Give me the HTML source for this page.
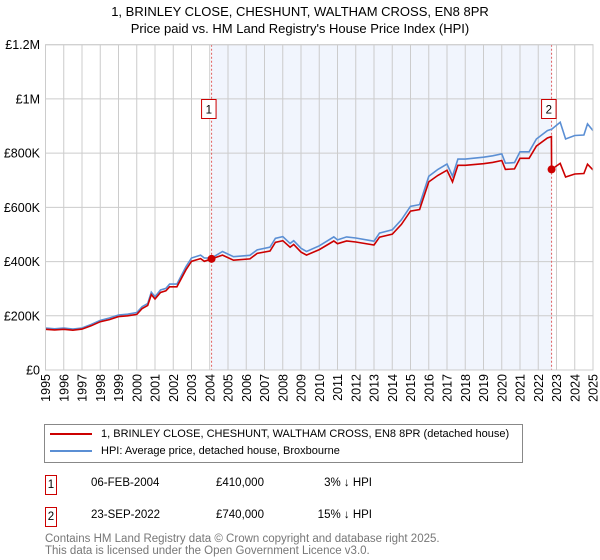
<!DOCTYPE html>
<html><head><meta charset="utf-8"><style>
body{margin:0;background:#fff;font-family:"Liberation Sans","DejaVu Sans",sans-serif;}
#wrap{position:relative;width:600px;height:560px;overflow:hidden;}
.t{position:absolute;white-space:nowrap;color:#000;}
</style></head><body>
<div id="wrap">
<svg id="chart" width="600" height="560" style="position:absolute;left:0;top:0"></svg>
<div class="t" style="left:0;width:600px;text-align:center;top:4px;font-size:13px;">1, BRINLEY CLOSE, CHESHUNT, WALTHAM CROSS, EN8 8PR</div>
<div class="t" style="left:0;width:600px;text-align:center;top:21px;font-size:13px;">Price paid vs. HM Land Registry's House Price Index (HPI)</div>
<div style="position:absolute;left:44px;top:424px;width:477px;height:37px;border:1px solid #888;background:#fff;">
 <div style="position:absolute;left:5px;top:3px;font-size:11px;white-space:nowrap;"><span style="display:inline-block;width:42px;height:2px;background:#cc0000;vertical-align:middle;margin-right:9px;"></span>1, BRINLEY CLOSE, CHESHUNT, WALTHAM CROSS, EN8 8PR (detached house)</div>
 <div style="position:absolute;left:5px;top:20px;font-size:11px;white-space:nowrap;"><span style="display:inline-block;width:42px;height:2px;background:#5b8fd4;vertical-align:middle;margin-right:9px;"></span>HPI: Average price, detached house, Broxbourne</div>
</div>
<div style="position:absolute;left:45px;top:475px;width:12px;height:20px;border:1px solid #cc0000;font-size:11.5px;text-align:center;line-height:18px;box-sizing:border-box;">1</div>
<div class="t" style="left:91px;top:477px;font-size:11.5px;">06-FEB-2004</div>
<div class="t" style="left:216px;top:477px;font-size:11.5px;">£410,000</div>
<div class="t" style="left:320px;width:52px;text-align:right;top:477px;font-size:11.5px;">3% ↓ HPI</div>
<div style="position:absolute;left:45px;top:507px;width:12px;height:20px;border:1px solid #cc0000;font-size:11.5px;text-align:center;line-height:18px;box-sizing:border-box;">2</div>
<div class="t" style="left:91px;top:509px;font-size:11.5px;">23-SEP-2022</div>
<div class="t" style="left:216px;top:509px;font-size:11.5px;">£740,000</div>
<div class="t" style="left:310px;width:62px;text-align:right;top:509px;font-size:11.5px;">15% ↓ HPI</div>
<div class="t" style="left:45px;top:533px;font-size:11.5px;color:#777;line-height:12px;">Contains HM Land Registry data © Crown copyright and database right 2025.<br>This data is licensed under the Open Government Licence v3.0.</div>
</div>
<script>
const years=[1995.0,1995.5,1996.0,1996.5,1997.0,1997.5,1998.0,1998.5,1999.0,1999.5,2000.0,2000.3,2000.6,2000.8,2001.0,2001.3,2001.6,2001.8,2002.2,2002.7,2003.0,2003.5,2003.7,2004.1,2004.7,2005.3,2006.2,2006.6,2007.3,2007.6,2008.0,2008.4,2008.6,2009.0,2009.3,2010.0,2010.8,2011.0,2011.5,2012.0,2013.0,2013.3,2014.0,2014.5,2015.0,2015.5,2016.0,2016.5,2017.0,2017.3,2017.6,2018.0,2019.0,2019.5,2020.0,2020.2,2020.7,2021.0,2021.5,2021.9,2022.5,2022.72,2022.73,2023.2,2023.5,2024.0,2024.5,2024.7,2025.0];
const hpiValues=[155,152,155,151,155,168,183,192,203,206,212,234,245,287,270,295,301,317,317,381,413,424,413,413,437,418,423,443,453,486,492,467,477,449,437,458,491,480,491,487,475,505,517,554,604,610,715,740,760,715,778,778,785,790,797,763,765,805,805,852,883,888,888,914,852,865,867,908,883];
const priceValues=[150,148,150,147,151,163,178,186,197,200,205,227,238,278,262,286,292,307,307,370,401,411,401,410,424,405,410,430,439,471,477,453,463,435,424,444,476,466,476,472,461,490,501,537,586,592,694,718,737,694,755,755,761,766,773,740,742,781,781,826,856,861,740,762,712,723,725,759,738];
const saleYears=[2004.1,2022.73];
const saleValues=[410,740];
const saleLabels=["1","2"];
const yTicks=[0,200,400,600,800,1000,1200];
const yTickLabels=["£0","£200K","£400K","£600K","£800K","£1M","£1.2M"];
const xTicks=[1995,1996,1997,1998,1999,2000,2001,2002,2003,2004,2005,2006,2007,2008,2009,2010,2011,2012,2013,2014,2015,2016,2017,2018,2019,2020,2021,2022,2023,2024,2025];

const NS="http://www.w3.org/2000/svg";
const svg=document.getElementById('chart');
const X0=45.5,X1=593,Y0=370,Y1=44.7;
function xs(y){return X0+(y-1995)/30*(X1-X0);}
function ys(v){return Y0-v/1200*(Y0-Y1);}
function mk(tag,attrs){const e=document.createElementNS(NS,tag);for(const k in attrs)e.setAttribute(k,attrs[k]);svg.appendChild(e);return e;}

const shade=mk('rect',{x:xs(saleYears[0]),y:Y1,width:xs(saleYears[1])-xs(saleYears[0]),height:Y0-Y1,fill:'#eef3fd',opacity:0.8});


yTicks.forEach((v,i)=>{
 const g=mk('line',{x1:X0,x2:X1,y1:ys(v),y2:ys(v),stroke:'#ccc','stroke-width':1});
 
 
 const t=mk('text',{x:40,y:ys(v)+4.5,'text-anchor':'end','font-size':12.5,'font-family':'Liberation Sans, DejaVu Sans, sans-serif'});
 t.textContent=yTickLabels[i];
 
 
});
xTicks.forEach(yr=>{
 const g=mk('line',{x1:xs(yr),x2:xs(yr),y1:Y1,y2:Y0,stroke:'#ccc','stroke-width':1});
 
 
 const t=mk('text',{x:0,y:0,'text-anchor':'end','font-size':12.5,'font-family':'Liberation Sans, DejaVu Sans, sans-serif',transform:`translate(${xs(yr)+4.5},374) rotate(-90)`});
 t.textContent=String(yr);
 
 
});
saleYears.forEach((yr,i)=>{
 const l=mk('line',{x1:xs(yr),x2:xs(yr),y1:Y1,y2:Y0,stroke:'#e06060','stroke-width':1,'stroke-dasharray':'2,2'});
 
 
});
function pathOf(vals){return vals.map((v,i)=>(i?'L':'M')+xs(years[i]).toFixed(1)+','+ys(v).toFixed(1)).join('');}
const hp=mk('path',{d:pathOf(hpiValues),fill:'none',stroke:'#5b8fd4','stroke-width':1.6});


const pp=mk('path',{d:pathOf(priceValues),fill:'none',stroke:'#cc0000','stroke-width':1.6});


saleYears.forEach((yr,i)=>{
 const c=mk('circle',{cx:xs(yr),cy:ys(saleValues[i]),r:4,fill:'#cc0000'});
 
 
 const r=mk('rect',{x:xs(yr)-10,y:99.5,width:14.5,height:19,fill:'#fff',stroke:'#cc0000','stroke-width':1});
 
 
 const t=mk('text',{x:xs(yr)-2.7,y:113.5,'text-anchor':'middle','font-size':11.5,'font-family':'Liberation Sans, DejaVu Sans, sans-serif'});
 t.textContent=saleLabels[i];
 
 
});
const ax=mk('rect',{x:X0,y:Y1,width:X1-X0,height:Y0-Y1,fill:'none',stroke:'#ccc','stroke-width':1});


</script>
</body></html>
